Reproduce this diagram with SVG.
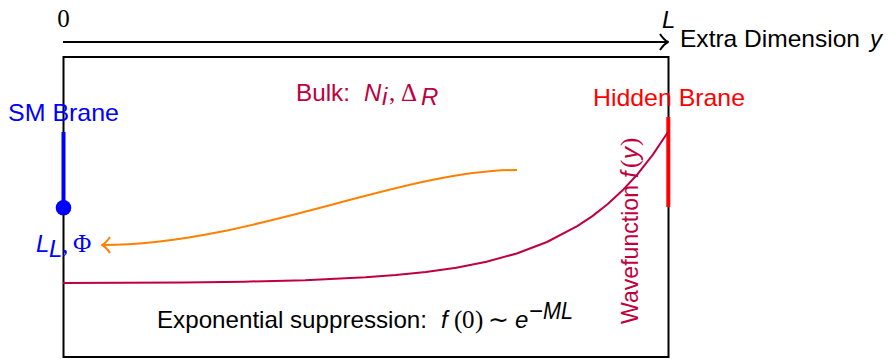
<svg xmlns="http://www.w3.org/2000/svg" width="889" height="359" viewBox="0 0 889 359">
<style>
.sans{font-family:"Liberation Sans",Arial,sans-serif;font-size:24px}
.it{font-style:italic}
.ser{font-family:"Liberation Serif","Times New Roman",serif;font-size:25px}
.blk{fill:#000}
.blue{fill:#0000FF}
.red{fill:#FF0000}
.pur{fill:#BF0040}
.ln{fill:none;stroke-linecap:butt}
</style>
<rect width="889" height="359" fill="#fff"/>
<g id="axis">
  <line x1="63" y1="42" x2="667" y2="42" stroke="#000" stroke-width="2" class="ln"/>
  <path d="M660,34 Q664,40 668,42 Q664,44 660,50" stroke="#000" stroke-width="2" class="ln" stroke-linejoin="round"/>
  <text x="63.5" y="27" class="ser blk" text-anchor="middle">0</text>
  <text x="662" y="28" class="sans it blk">L</text>
  <text x="680" y="47" class="sans blk" textLength="180" lengthAdjust="spacingAndGlyphs">Extra Dimension</text>
  <text x="870" y="47" class="sans it blk">y</text>
</g>
<g id="bulk">
  <rect x="63.5" y="57" width="605" height="300" fill="none" stroke="#000" stroke-width="2"/>
  <text x="296" y="101" class="sans pur" textLength="54" lengthAdjust="spacingAndGlyphs">Bulk:</text>
  <text x="364" y="101" class="sans it pur">N</text>
  <text x="382" y="105" class="sans it pur" font-size="16">i</text>
  <text x="389" y="101" class="ser pur">,</text>
  <text x="401" y="101" class="ser pur">Δ</text>
  <text x="421" y="105" class="sans it pur" font-size="16">R</text>
</g>
<g id="sm-brane">
  <line x1="63.5" y1="132" x2="63.5" y2="208" stroke="#0000FF" stroke-width="4"/>
  <circle cx="63.5" cy="207.7" r="7.8" fill="#0000FF"/>
  <text x="8" y="120.5" class="sans blue" textLength="111" lengthAdjust="spacingAndGlyphs">SM Brane</text>
  <text x="36" y="252" class="sans it blue">L</text>
  <text x="49" y="257" class="sans it blue" font-size="15">L</text>
  <text x="62" y="253" class="ser blue" font-size="22">,</text>
  <text x="73" y="252" class="ser blue">Φ</text>
</g>
<g id="hidden-brane">
  <line x1="668.3" y1="117" x2="668.3" y2="207" stroke="#FF0000" stroke-width="4"/>
  <text x="593" y="106" class="sans red" textLength="152" lengthAdjust="spacingAndGlyphs">Hidden Brane</text>
</g>
<g id="wavefunction">
  <polyline class="ln" stroke="#BF0040" stroke-width="2" stroke-linejoin="round" points="63,283 123.5,282.79 184,282.39 244.5,281.63 305,280.17 365.5,277.36 395.75,275.11 426,272 456.25,267.68 486.5,261.71 516.75,253.45 547,242.01 577.25,226.18 592.4,216.13 607.5,204.28 622.6,190.35 637.75,173.96 652.9,154.67 668,132"/>
  <g transform="translate(638,324) rotate(-90)">
    <text x="0" y="0" class="sans pur" textLength="139" lengthAdjust="spacingAndGlyphs">Wavefunction</text>
    <text x="146" y="0" class="sans it pur">f</text>
    <text x="156" y="0" class="ser pur">(</text>
    <text x="165" y="0" class="sans it pur">y</text>
    <text x="178" y="0" class="ser pur">)</text>
  </g>
</g>
<g id="suppression-label">
  <text x="157" y="328" class="sans blk" textLength="270" lengthAdjust="spacingAndGlyphs">Exponential suppression:</text>
  <text x="441" y="328" class="sans it blk">f</text>
  <text x="454" y="328" class="ser blk">(</text>
  <text x="462" y="328" class="ser blk">0</text>
  <text x="475" y="328" class="ser blk">)</text>
  <text x="488" y="328" class="ser blk">∼</text>
  <text x="515" y="328" class="sans it blk">e</text>
  <text x="529" y="319" class="sans blk" font-size="16">−</text>
  <text x="543" y="319" class="sans it blk" font-size="16" textLength="30" lengthAdjust="spacingAndGlyphs">ML</text>
</g>
<g id="connectors">
  <path class="ln" d="M517,170 C400,170 250,245 102,245" stroke="#FF8000" stroke-width="2"/>
  <path class="ln" d="M110,237 Q106,243 102,245 Q106,247 110,253" stroke="#FF8000" stroke-width="2" stroke-linejoin="round"/>
</g>
</svg>
